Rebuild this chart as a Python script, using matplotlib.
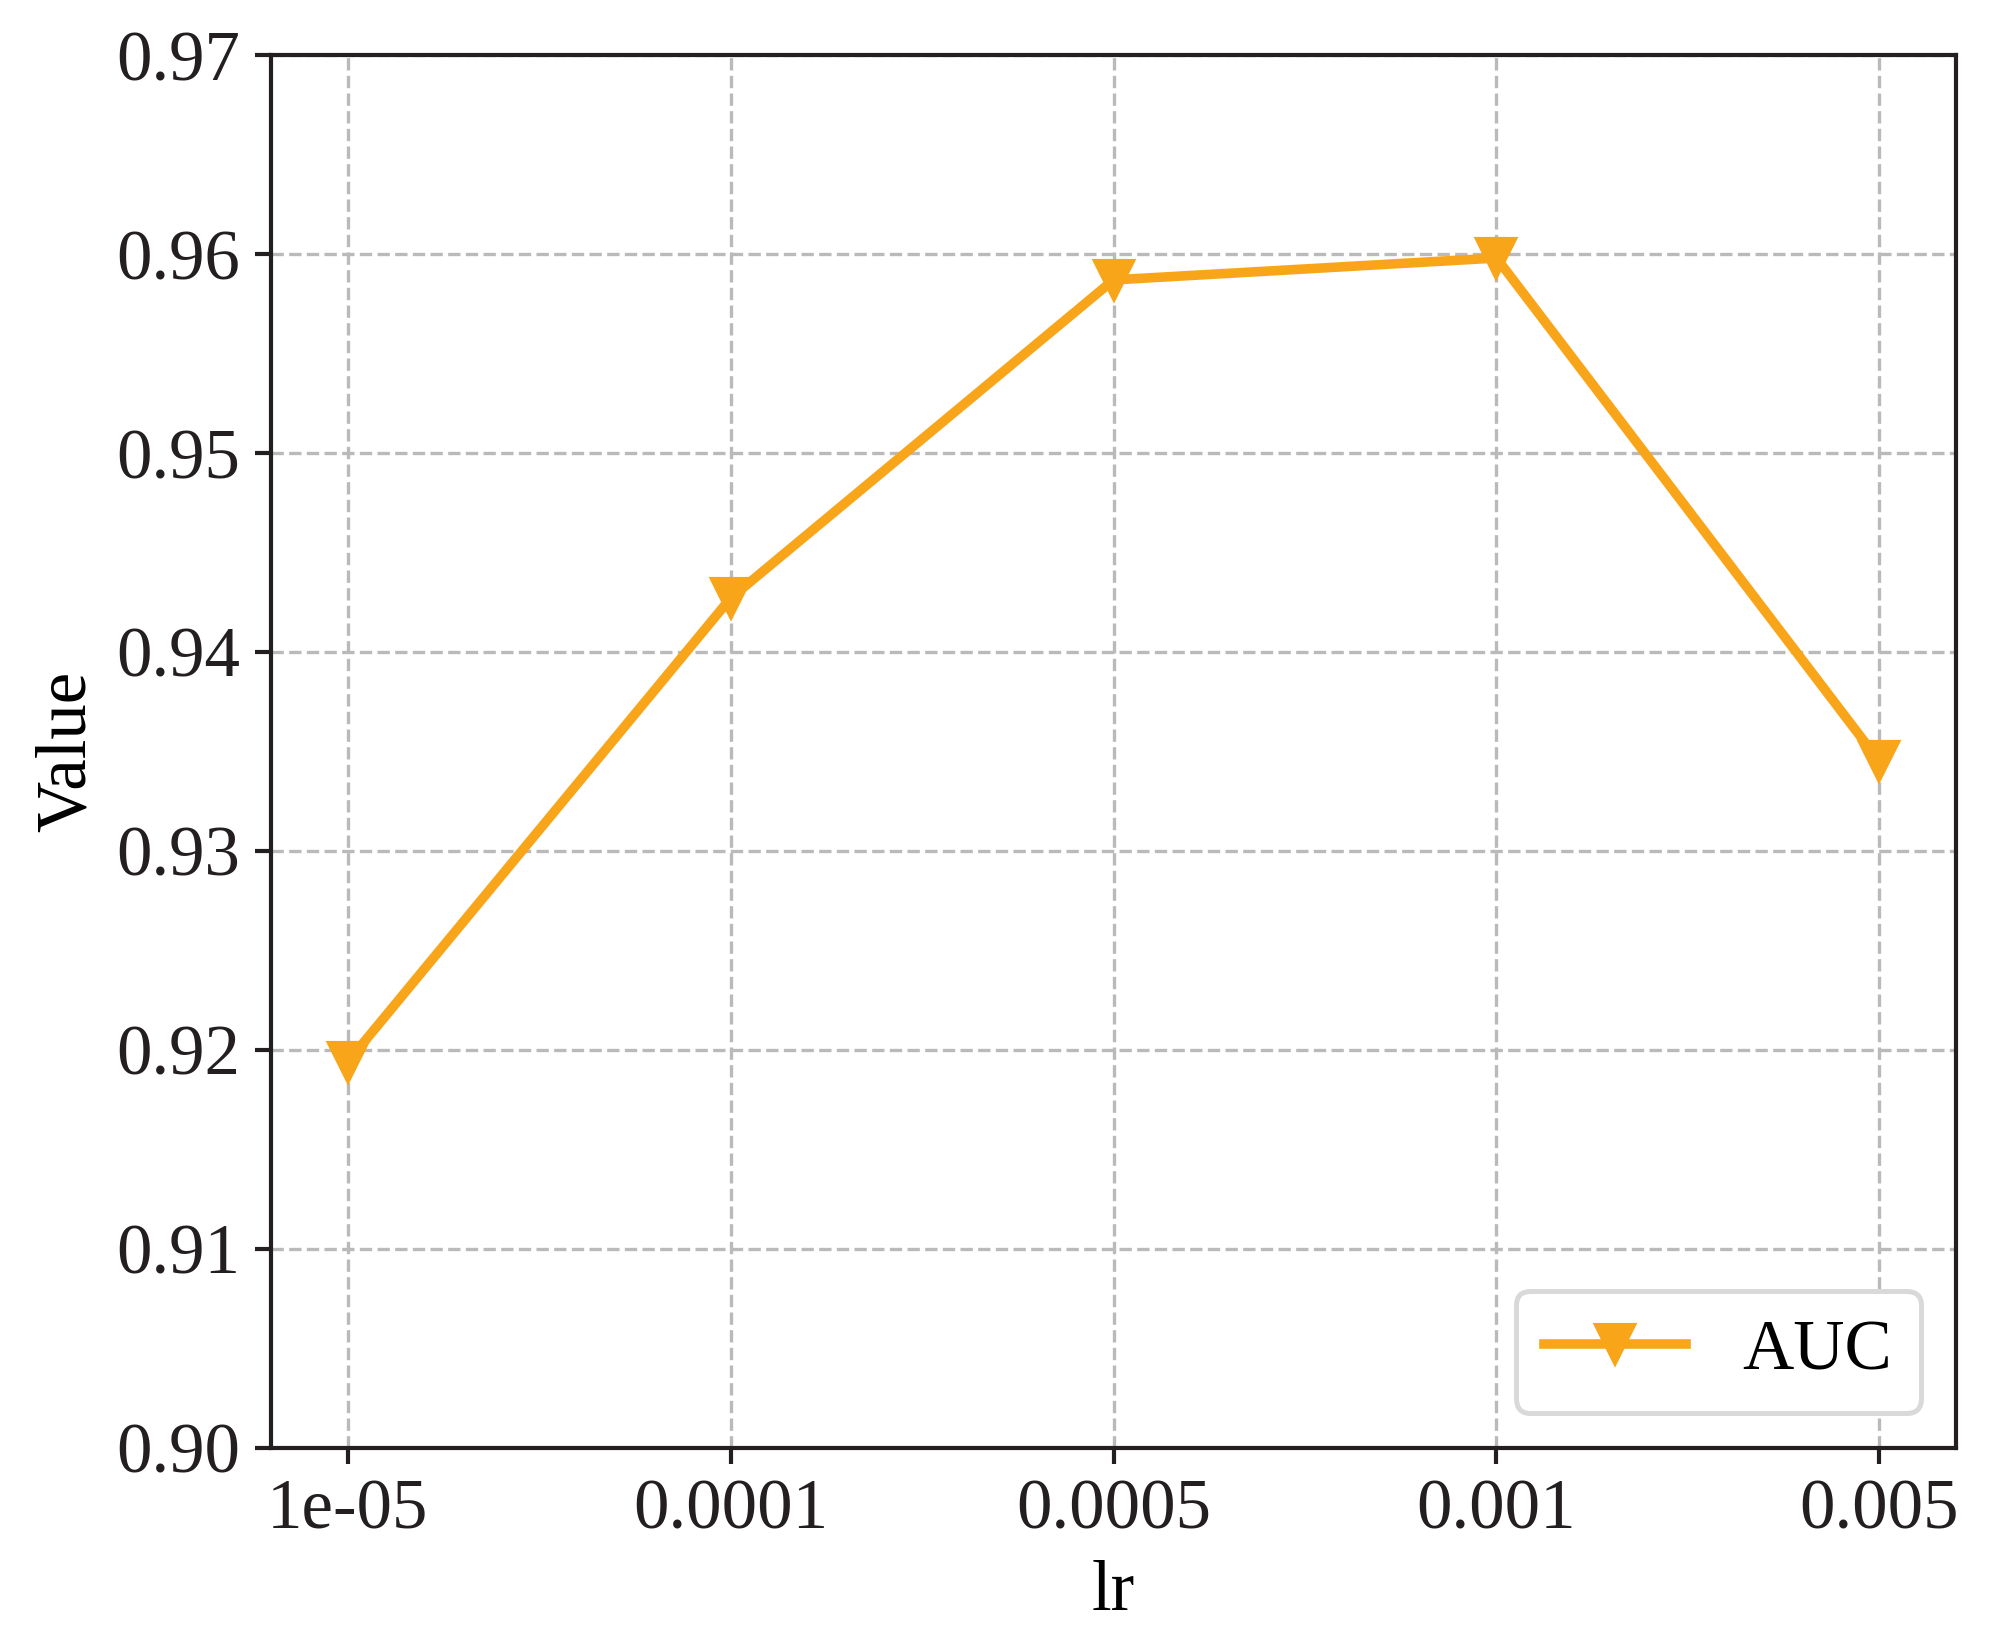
import numpy as np
import matplotlib.pyplot as plt

# learning rate sweep, AUC per setting
lr_labels = ['1e-05', '0.0001', '0.0005', '0.001', '0.005']
auc = [0.9194, 0.9427, 0.9587, 0.9598, 0.9345]

plt.rcParams['font.family'] = ['Liberation Serif', 'DejaVu Serif']
plt.rcParams['font.size'] = 17

fig, ax = plt.subplots(figsize=(1997 / 300, 1648 / 300), dpi=300)
fig.subplots_adjust(left=0.1357, right=0.9795, top=0.9666, bottom=0.1214)

x = np.arange(len(lr_labels))
ax.plot(x, auc, color='#f9a51a', marker='v', markersize=9.2, linewidth=2.3, label='AUC')

ax.set_xticks(x)
ax.set_xticklabels(lr_labels)
ax.set_ylim(0.90, 0.97)
ax.set_yticks(np.arange(0.90, 0.9701, 0.01))
ax.set_yticklabels(['%.2f' % v for v in np.arange(0.90, 0.9701, 0.01)])
ax.set_xlabel('lr')
ax.set_ylabel('Value')

ax.grid(True, linestyle='--', color='#bababa', linewidth=0.8)
for s in ax.spines.values():
    s.set_linewidth(1.0)
    s.set_color('#231f20')
ax.tick_params(width=1.0, length=3.8, colors='#231f20')

leg = ax.legend(loc='lower right', borderpad=0.4, handletextpad=0.8)
leg.get_frame().set_edgecolor('#d9d9d9')
leg.get_frame().set_linewidth(1.2)
leg.get_frame().set_alpha(1.0)

fig.savefig('out.png', dpi=300)
